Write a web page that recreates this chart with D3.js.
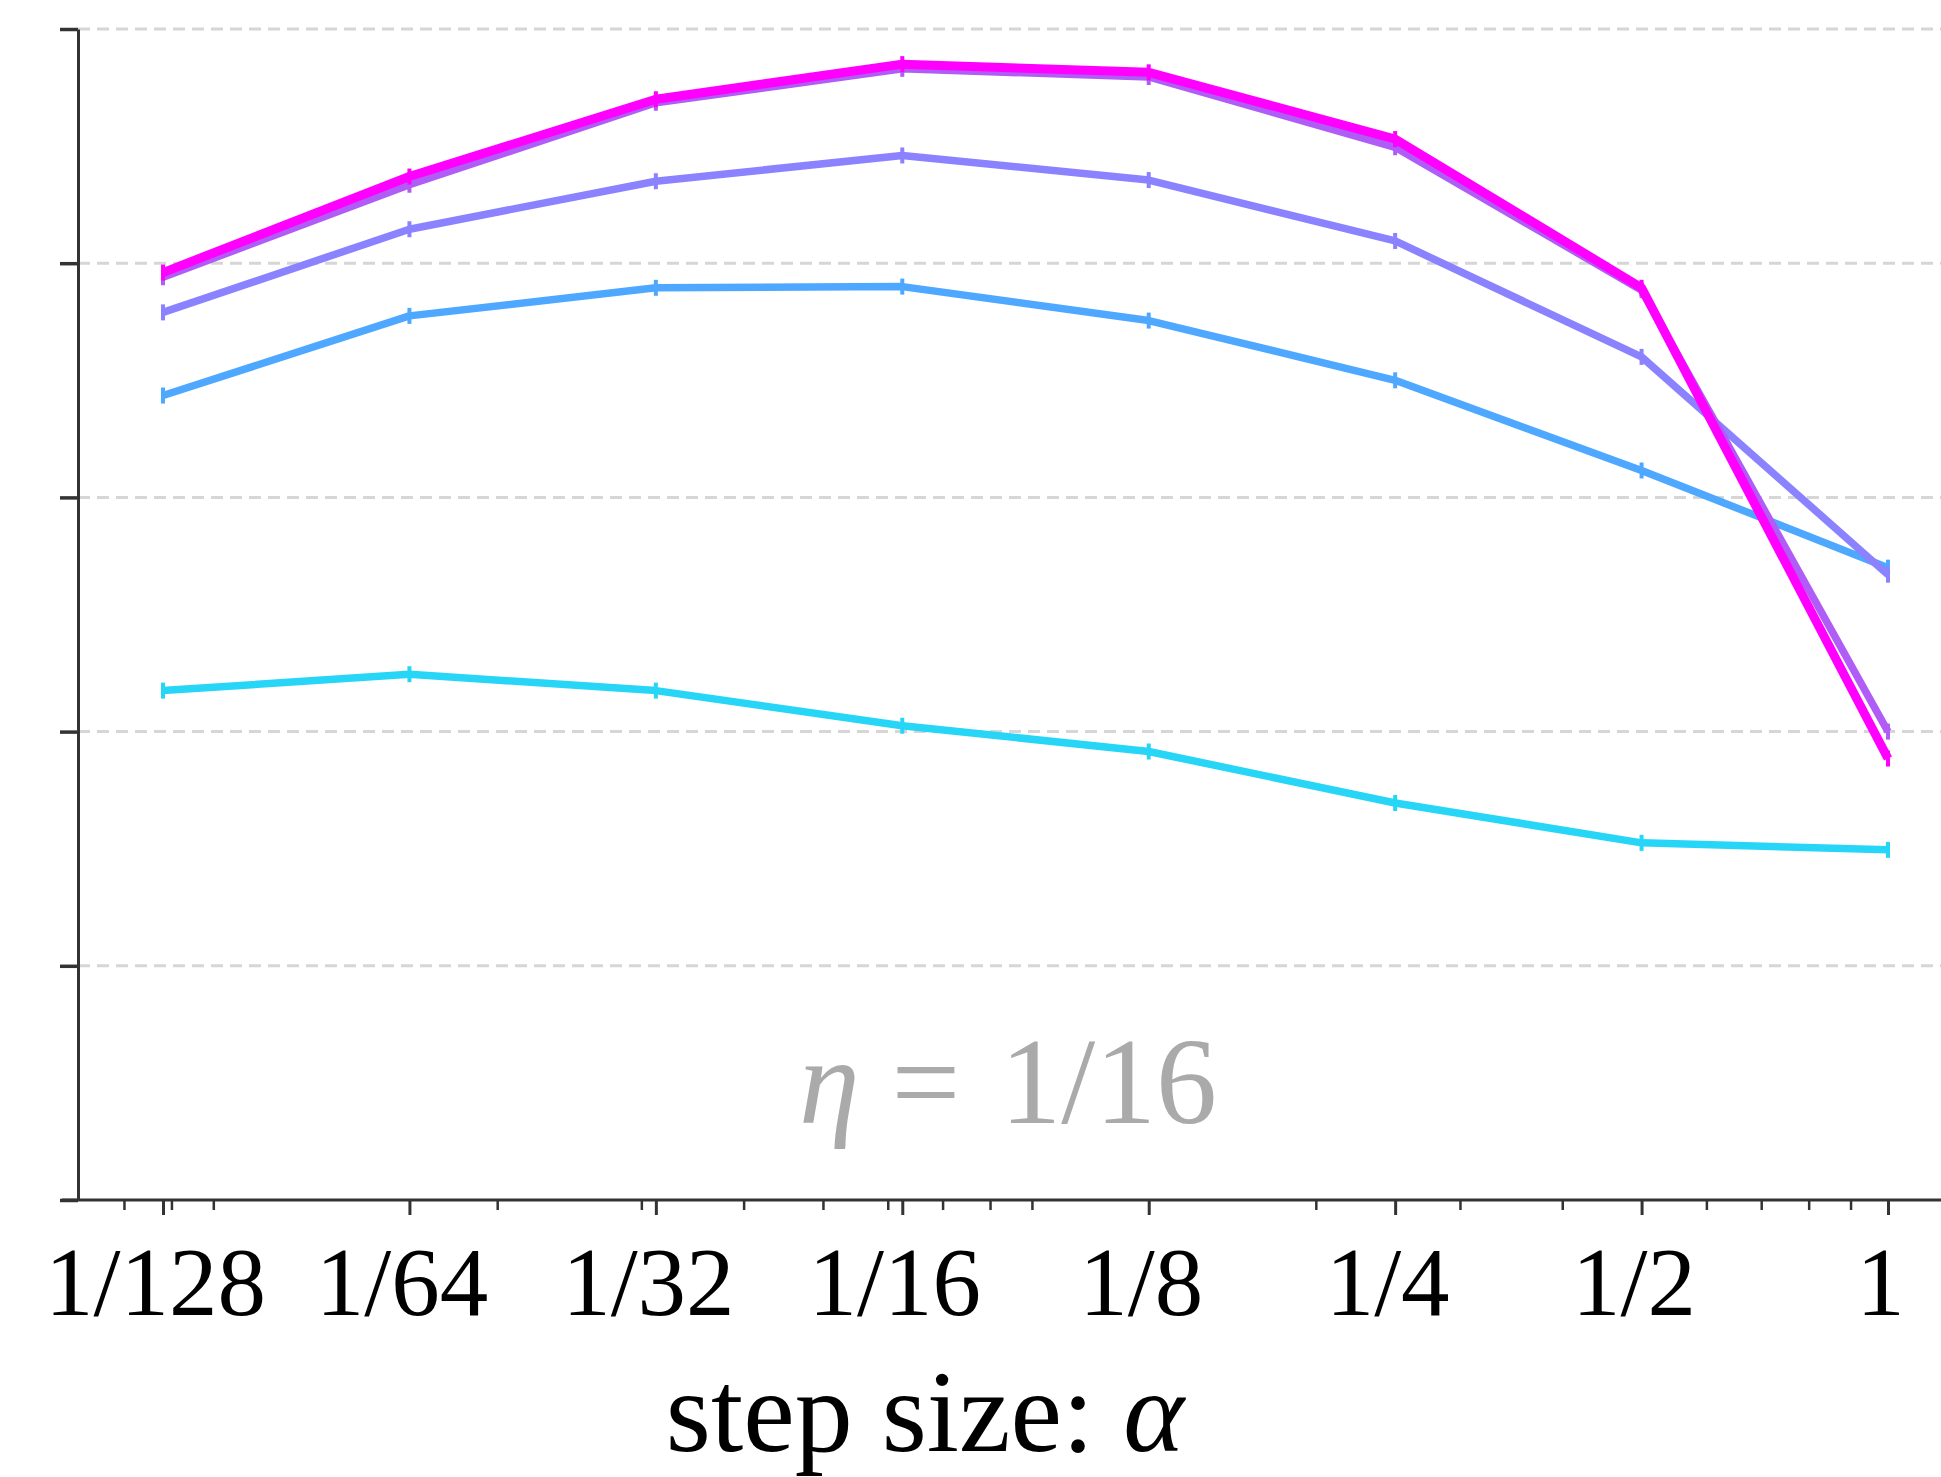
<!DOCTYPE html>
<html>
<head>
<meta charset="utf-8">
<script src="https://cdn.jsdelivr.net/npm/d3@7"></script>
<style>
  html, body { margin: 0; padding: 0; background: #fff; }
  svg { display: block; }
  .axis path, .axis line { stroke: #333; }
  .axis text { font-family: "Liberation Serif", "Times New Roman", serif; fill: #000; }
</style>
</head>
<body>
<svg id="chart" width="1941" height="1477"></svg>
<script>
// step sizes (x) and their labels
const stepSizes = [1/128, 1/64, 1/32, 1/16, 1/8, 1/4, 1/2, 1];
const stepLabels = ["1/128", "1/64", "1/32", "1/16", "1/8", "1/4", "1/2", "1"];
const minorSteps = [0.007, 0.008, 0.009, 0.02, 0.03, 0.04, 0.05, 0.06, 0.07, 0.08, 0.09,
                    0.2, 0.3, 0.4, 0.6, 0.7, 0.8, 0.9];
const yTicks = [0, 0.2, 0.4, 0.6, 0.8, 1.0];

// one series per curve
const seriesCyan     = [0.435, 0.449, 0.435, 0.405, 0.383, 0.339, 0.305, 0.299];
const seriesBlue     = [0.687, 0.755, 0.779, 0.780, 0.751, 0.700, 0.623, 0.540];
const seriesLavender = [0.758, 0.829, 0.870, 0.892, 0.871, 0.819, 0.720, 0.534];
const seriesViolet   = [0.788, 0.867, 0.937, 0.966, 0.959, 0.899, 0.777, 0.400];
const seriesMagenta  = [0.792, 0.874, 0.940, 0.970, 0.963, 0.906, 0.779, 0.377];

const seriesValues = [seriesCyan, seriesBlue, seriesLavender, seriesViolet, seriesMagenta];
const seriesColors = ["#27d6f7", "#4fa8ff", "#8a82ff", "#b05cf6", "#ff00ff"];
const seriesWidths = [7.5, 7.5, 7.5, 7.5, 9];

const svg = d3.select("#chart");
const W = 1941;

const x = d3.scaleLog().base(2).domain([1/128, 1]).range([163, 1888]);
const y = d3.scaleLinear().domain([0, 1]).range([1200, 29]);
const axisX0 = 78;

// dashed horizontal grid
svg.append("g")
  .selectAll("line")
  .data(yTicks.filter(d => d > 0))
  .join("line")
  .attr("x1", axisX0).attr("x2", W)
  .attr("y1", d => y(d)).attr("y2", d => y(d))
  .attr("stroke", "#d6d6d6")
  .attr("stroke-width", 3)
  .attr("stroke-dasharray", "12 7");

// lines
const line = d3.line()
  .x((d, i) => x(stepSizes[i]))
  .y(d => y(d));

const lines = svg.append("g");
seriesValues.forEach((vals, k) => {
  const g = lines.append("g");
  g.append("path")
    .datum(vals)
    .attr("fill", "none")
    .attr("stroke", seriesColors[k])
    .attr("stroke-width", seriesWidths[k])
    .attr("stroke-linejoin", "round")
    .attr("d", line);
  // small vertical point markers
  g.selectAll("line")
    .data(vals)
    .join("line")
    .attr("x1", (d, i) => x(stepSizes[i]))
    .attr("x2", (d, i) => x(stepSizes[i]))
    .attr("y1", d => y(d) - 8)
    .attr("y2", d => y(d) + 8)
    .attr("stroke", seriesColors[k])
    .attr("stroke-width", 4);
});

// y axis (no labels)
const yAxis = svg.append("g")
  .attr("class", "axis")
  .attr("transform", `translate(${axisX0},0)`)
  .call(d3.axisLeft(y).tickValues(yTicks).tickSize(18).tickSizeOuter(0).tickFormat(""));
yAxis.select(".domain").attr("stroke-width", 3);
yAxis.selectAll(".tick line").attr("stroke-width", 3.5);

// x axis: minor ticks
const xMinor = svg.append("g")
  .attr("class", "axis")
  .attr("transform", "translate(0,1200)")
  .call(d3.axisBottom(x).tickValues(minorSteps).tickSize(10).tickFormat(""));
xMinor.select(".domain").remove();
xMinor.selectAll(".tick line").attr("stroke-width", 2.5);

// x axis: major ticks with labels
const xAxis = svg.append("g")
  .attr("class", "axis")
  .attr("transform", "translate(0,1200)")
  .call(d3.axisBottom(x).tickValues(stepSizes).tickSize(15)
    .tickFormat((d, i) => stepLabels[i]));
xAxis.select(".domain").remove();
xAxis.selectAll(".tick line").attr("stroke-width", 3);
xAxis.selectAll(".tick text")
  .attr("dy", null)
  .attr("y", 115)
  .attr("x", -8)
  .attr("font-size", 97);

// full-width axis baseline
svg.append("line")
  .attr("x1", 62).attr("x2", W)
  .attr("y1", 1200).attr("y2", 1200)
  .attr("stroke", "#333").attr("stroke-width", 3);

// x axis title
const title = svg.append("text")
  .attr("x", 925).attr("y", 1451)
  .attr("text-anchor", "middle")
  .attr("font-family", "Liberation Serif, serif")
  .attr("font-size", 116)
  .attr("fill", "#000");
title.append("tspan").text("step size: ");
title.append("tspan").attr("font-style", "italic").text("α");

// panel annotation
const note = svg.append("text")
  .attr("x", 1008).attr("y", 1123)
  .attr("text-anchor", "middle")
  .attr("font-family", "Liberation Serif, serif")
  .attr("font-size", 122)
  .attr("fill", "#aaaaaa");
note.append("tspan").attr("font-style", "italic").text("η");
note.append("tspan").attr("dx", 32).text("=");
note.append("tspan").attr("dx", 40).text("1/16");
</script>
</body>
</html>
